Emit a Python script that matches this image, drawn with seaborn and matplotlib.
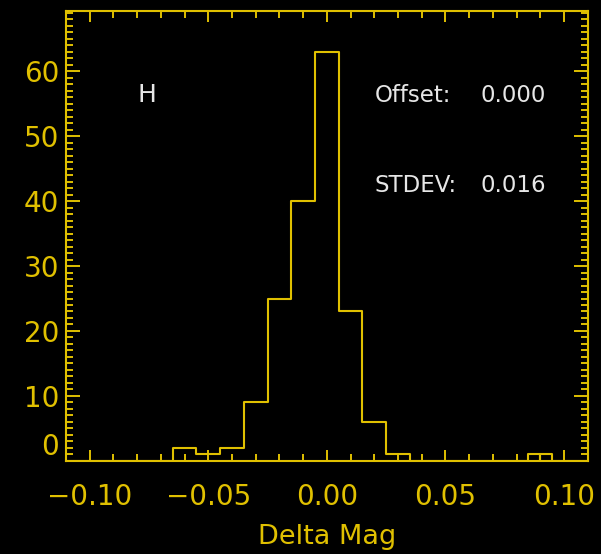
import numpy as np
import seaborn as sns
import matplotlib.pyplot as plt
from matplotlib.ticker import MultipleLocator

# histogram of magnitude differences (bin centres and counts)
bin_centers = [-0.06, -0.05, -0.04, -0.03, -0.02, -0.01, 0.00, 0.01, 0.02, 0.03, 0.0875, 0.0925]
counts = [2, 1, 2, 9, 25, 40, 63, 23, 6, 1, 1, 1]
bin_edges = [-0.11, -0.065, -0.055, -0.045, -0.035, -0.025, -0.015, -0.005,
             0.005, 0.015, 0.025, 0.035, 0.085, 0.0899, 0.0901, 0.095, 0.11]

x_ticks = [-0.10, -0.05, 0.00, 0.05, 0.10]
y_ticks = [0, 10, 20, 30, 40, 50, 60]

band = "H"
offset_text = "0.000"
stdev_text = "0.016"

yellow = "#E0C000"
white = "#E6E6E6"

sns.set_style("dark")
plt.rcParams["font.family"] = ["DejaVu Sans"]
plt.rcParams["axes.unicode_minus"] = True

fig = plt.figure(figsize=(6.01, 5.54), dpi=100, facecolor="black")
ax = fig.add_axes([0.1098, 0.1679, 0.868, 0.813])
ax.set_facecolor("black")

sns.histplot(x=bin_centers, weights=counts, bins=bin_edges, element="step",
             fill=False, color=yellow, linewidth=1.5, ax=ax)

ax.set_xlim(-0.11, 0.11)
ax.set_ylim(0, 69.3)
ax.set_xticks(x_ticks)
ax.set_xticklabels([f"{v:.2f}".replace("-", "\u2212") for v in x_ticks])
ax.set_yticks(y_ticks)
ax.set_yticklabels([str(v) for v in y_ticks])
ax.xaxis.set_minor_locator(MultipleLocator(0.01))
ax.yaxis.set_minor_locator(MultipleLocator(1))

for s in ax.spines.values():
    s.set_color(yellow)
    s.set_linewidth(1.5)
    s.set_visible(True)
ax.grid(False)

ax.tick_params(axis="both", which="both", direction="in", top=True, right=True,
               bottom=True, left=True, colors=yellow, width=1.4, labelsize=20)
ax.tick_params(axis="x", which="major", length=8, pad=16)
ax.tick_params(axis="x", which="minor", length=4.7)
ax.tick_params(axis="y", which="major", length=10, pad=5)
ax.tick_params(axis="y", which="minor", length=5)
ax.get_yticklabels()[0].set_verticalalignment("bottom")

ax.set_xlabel("Delta Mag", color=yellow, fontsize=19.5, labelpad=9)
ax.set_ylabel("")

ax.text(0.138, 0.798, band, transform=ax.transAxes, color=white, fontsize=18,
        ha="left", va="baseline")
ax.text(0.592, 0.798, "Offset:", transform=ax.transAxes, color=white, fontsize=16.5,
        ha="left", va="baseline")
ax.text(0.795, 0.798, offset_text, transform=ax.transAxes, color=white, fontsize=16.5,
        ha="left", va="baseline")
ax.text(0.592, 0.598, "STDEV:", transform=ax.transAxes, color=white, fontsize=16.5,
        ha="left", va="baseline")
ax.text(0.795, 0.598, stdev_text, transform=ax.transAxes, color=white, fontsize=16.5,
        ha="left", va="baseline")

fig.savefig("out.png", dpi=100, facecolor="black")
